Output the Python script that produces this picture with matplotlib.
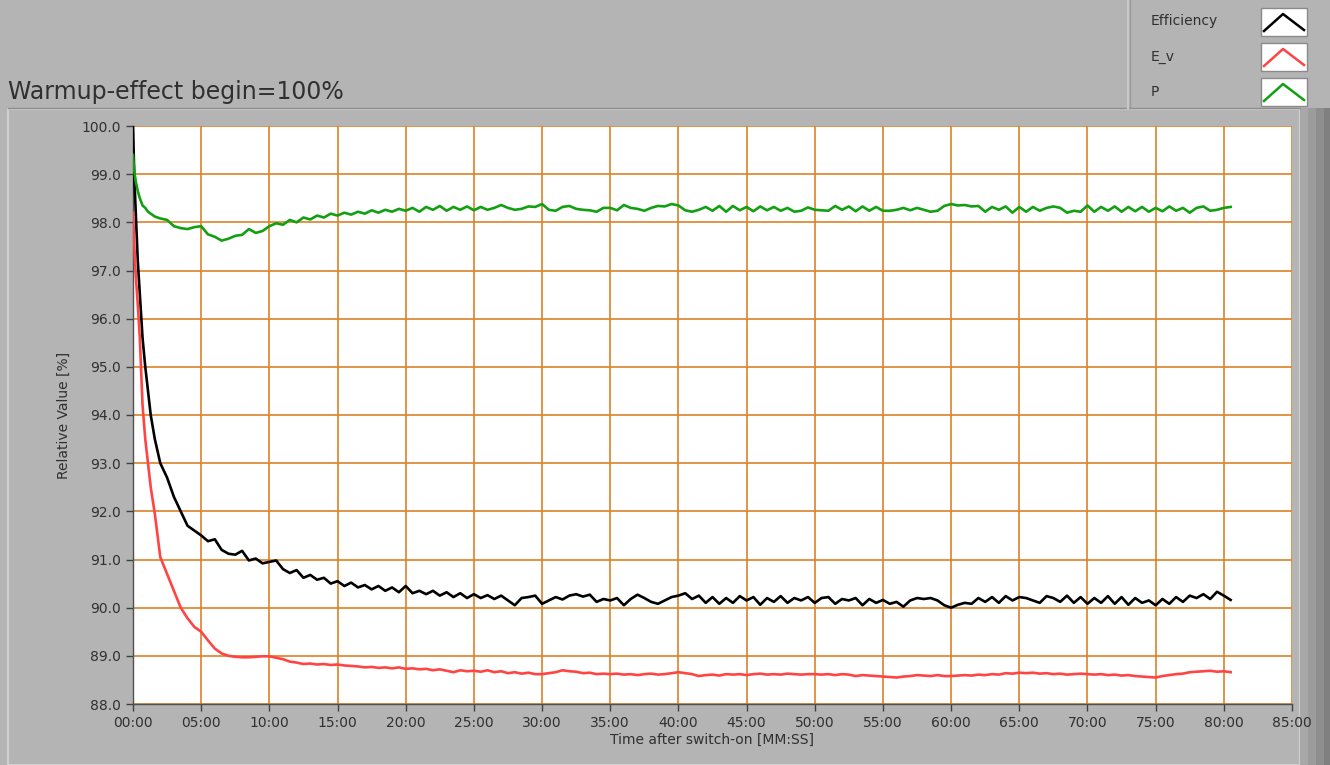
import numpy as np
import matplotlib.pyplot as plt
from matplotlib.patches import Rectangle
from matplotlib.lines import Line2D

# time after switch-on, minutes (dense at the start, then every 30 s)
minutes = np.concatenate([
    [0.0, 0.1, 0.2, 0.35, 0.5, 0.7, 0.9, 1.1, 1.3, 1.6, 2.0, 2.5, 3.0, 3.5, 4.0, 4.5, 5.0],
    np.arange(5.5, 80.51, 0.5),
])

efficiency = [
    100.0, 98.9, 98.2, 97.2, 96.5, 95.6, 95.0, 94.5, 94.0, 93.5, 93.0, 92.7, 92.3, 92.0, 91.7, 91.6, 91.5,
    91.38, 91.42, 91.20, 91.12, 91.10, 91.18, 90.98, 91.02, 90.92, 90.95,
    90.98, 90.80, 90.72, 90.78, 90.62, 90.68, 90.58, 90.62, 90.50, 90.55,
    90.45, 90.52, 90.42, 90.47, 90.38, 90.45, 90.35, 90.42, 90.32, 90.45,
    90.30, 90.35, 90.28, 90.35, 90.25, 90.32, 90.22, 90.30, 90.20, 90.28,
    90.20, 90.26, 90.18, 90.25, 90.15, 90.05, 90.20, 90.22, 90.25, 90.08,
    90.15, 90.22, 90.17, 90.25, 90.28, 90.23, 90.27, 90.12, 90.18, 90.15,
    90.20, 90.05, 90.18, 90.27, 90.20, 90.12, 90.08, 90.15, 90.22, 90.25,
    90.30, 90.18, 90.25, 90.10, 90.22, 90.08, 90.20, 90.10, 90.24, 90.15,
    90.22, 90.06, 90.20, 90.12, 90.24, 90.10, 90.20, 90.15, 90.22, 90.10,
    90.20, 90.22, 90.08, 90.18, 90.15, 90.20, 90.05, 90.18, 90.10, 90.16,
    90.08, 90.12, 90.02, 90.15, 90.20, 90.18, 90.20, 90.15, 90.05, 90.00,
    90.06, 90.10, 90.08, 90.20, 90.12, 90.22, 90.10, 90.24, 90.15, 90.22,
    90.20, 90.15, 90.10, 90.24, 90.20, 90.12, 90.25, 90.10, 90.22, 90.08,
    90.20, 90.10, 90.24, 90.08, 90.22, 90.06, 90.20, 90.10, 90.15, 90.05,
    90.18, 90.08, 90.22, 90.12, 90.25, 90.20, 90.28, 90.18, 90.33, 90.25,
    90.16,
]

e_v = [
    98.2, 97.5, 96.9, 96.3, 95.6, 94.2, 93.5, 93.0, 92.5, 91.95, 91.05, 90.7, 90.35, 90.0, 89.78, 89.6, 89.5,
    89.32, 89.15, 89.05, 89.00, 88.98, 88.97, 88.97, 88.98, 88.99, 88.99,
    88.96, 88.93, 88.88, 88.86, 88.83, 88.84, 88.82, 88.83, 88.81, 88.82,
    88.80, 88.79, 88.78, 88.76, 88.77, 88.75, 88.76, 88.74, 88.76, 88.73,
    88.74, 88.72, 88.73, 88.70, 88.72, 88.69, 88.66, 88.70, 88.68, 88.69,
    88.67, 88.70, 88.66, 88.68, 88.64, 88.66, 88.63, 88.65, 88.62, 88.62,
    88.64, 88.66, 88.70, 88.68, 88.67, 88.64, 88.65, 88.62, 88.63, 88.62,
    88.63, 88.61, 88.62, 88.60, 88.62, 88.63, 88.61, 88.62, 88.64, 88.66,
    88.64, 88.62, 88.58, 88.60, 88.61, 88.59, 88.62, 88.61, 88.62, 88.60,
    88.62, 88.63, 88.61, 88.62, 88.61, 88.63, 88.62, 88.61, 88.62, 88.62,
    88.61, 88.62, 88.60, 88.62, 88.61, 88.58, 88.60, 88.59, 88.58, 88.57,
    88.56, 88.55, 88.57, 88.58, 88.60, 88.59, 88.58, 88.60, 88.58, 88.58,
    88.59, 88.60, 88.59, 88.61, 88.60, 88.62, 88.61, 88.64, 88.63, 88.65,
    88.64, 88.65, 88.63, 88.64, 88.62, 88.63, 88.61, 88.62, 88.63, 88.62,
    88.61, 88.62, 88.60, 88.61, 88.59, 88.60, 88.58, 88.57, 88.56, 88.55,
    88.58, 88.60, 88.62, 88.63, 88.66, 88.67, 88.68, 88.69, 88.67, 88.68,
    88.66,
]

power = [
    99.4, 99.05, 98.85, 98.65, 98.5, 98.35, 98.3, 98.22, 98.18, 98.12, 98.08, 98.05, 97.92, 97.88, 97.86, 97.9, 97.92,
    97.75, 97.70, 97.62, 97.66, 97.72, 97.74, 97.86, 97.78, 97.82, 97.92,
    97.98, 97.95, 98.05, 98.00, 98.10, 98.06, 98.14, 98.10, 98.18, 98.14,
    98.20, 98.16, 98.22, 98.18, 98.25, 98.20, 98.26, 98.22, 98.28, 98.24,
    98.30, 98.22, 98.32, 98.26, 98.34, 98.24, 98.32, 98.26, 98.33, 98.25,
    98.32, 98.26, 98.30, 98.36, 98.30, 98.26, 98.28, 98.33, 98.32, 98.38,
    98.26, 98.24, 98.32, 98.34, 98.28, 98.26, 98.25, 98.22, 98.30, 98.30,
    98.25, 98.36, 98.30, 98.28, 98.24, 98.30, 98.34, 98.33, 98.38, 98.35,
    98.25, 98.22, 98.26, 98.32, 98.24, 98.34, 98.22, 98.34, 98.25, 98.32,
    98.23, 98.33, 98.25, 98.32, 98.24, 98.30, 98.22, 98.24, 98.31, 98.26,
    98.25, 98.24, 98.34, 98.26, 98.33, 98.23, 98.33, 98.24, 98.32, 98.24,
    98.24, 98.26, 98.30, 98.25, 98.30, 98.26, 98.22, 98.24, 98.34, 98.38,
    98.35, 98.36, 98.33, 98.34, 98.22, 98.32, 98.26, 98.33, 98.20, 98.32,
    98.22, 98.32, 98.24, 98.30, 98.33, 98.30, 98.20, 98.24, 98.22, 98.35,
    98.22, 98.32, 98.24, 98.33, 98.22, 98.32, 98.23, 98.32, 98.22, 98.30,
    98.23, 98.33, 98.24, 98.30, 98.20, 98.30, 98.33, 98.24, 98.26, 98.30,
    98.32,
]

series_names = ['Efficiency', 'E_v', 'P']
series_colors = ['#000000', '#ff4444', '#12a012']
x_ticks = np.arange(0, 86, 5)
y_ticks = np.arange(88, 100.1, 1)

W, H = 1330, 765
bg = '#b4b4b4'
grid_c = '#dc8228'
txt_c = '#303030'

fig = plt.figure(figsize=(W / 100, H / 100), dpi=100, facecolor=bg)

# panel decorations (figure pixel coords -> fraction)
def fr(x, y):
    return x / W, 1 - y / H

# frame around the graph area
fig.patches.append(Rectangle(fr(8, 765), (1300 - 8) / W, (765 - 109) / H,
                             transform=fig.transFigure, facecolor=bg,
                             edgecolor='#d0d0d0', lw=1.5, zorder=-5))
fig.add_artist(Line2D([8 / W, 1300 / W], [1 - 108 / H] * 2, color='#8c8c8c', lw=1, zorder=-4))
# right bevel strip
for i, c in enumerate(['#a8a8a8', '#9c9c9c', '#8e8e8e', '#808080']):
    fig.patches.append(Rectangle(((1300 + i * 8) / W, 0), 8 / W, 1 - 108 / H,
                                 transform=fig.transFigure, facecolor=c, lw=0, zorder=-5))

# legend panel
fig.add_artist(Line2D([1128 / W] * 2, [1, 1 - 108 / H], color='#c8c8c8', lw=1.5))
fig.add_artist(Line2D([1130 / W] * 2, [1, 1 - 108 / H], color='#9a9a9a', lw=1))
row_y = [21, 57, 92]
box_top = [8, 43, 78]
for name, col, yc, bt in zip(series_names, series_colors, row_y, box_top):
    fig.text(1151 / W, 1 - yc / H, name, fontsize=10, color=txt_c, va='center', ha='left')
    fig.patches.append(Rectangle(fr(1261, bt + 28), 46 / W, 28 / H, transform=fig.transFigure,
                                 facecolor='white', edgecolor='#8a8a8a', lw=1))
    fig.add_artist(Line2D([1264 / W, 1283 / W, 1304 / W],
                          [1 - (bt + 23) / H, 1 - (bt + 6) / H, 1 - (bt + 22) / H],
                          color=col, lw=1.8))

fig.text(8 / W, 1 - 92 / H, 'Warmup-effect begin=100%', fontsize=17, color=txt_c,
         va='center', ha='left')

ax = fig.add_axes([133 / W, 1 - 704 / H, (1292 - 133) / W, (704 - 126) / H])
ax.set_zorder(5)
ax.set_facecolor('white')

for vals, name, col in zip([efficiency, e_v, power], series_names, series_colors):
    ax.plot(minutes, vals, color=col, lw=1.9, label=name, zorder=3)

ax.set_xlim(0, 85)
ax.set_ylim(88, 100)
ax.set_xticks(x_ticks)
ax.set_xticklabels(['%02d:00' % m for m in x_ticks])
ax.set_yticks(y_ticks)
ax.set_yticklabels(['%.1f' % v for v in y_ticks])
ax.grid(True, color=grid_c, lw=1.2, zorder=1)
ax.set_axisbelow(True)
ax.tick_params(direction='out', length=5, width=1, colors='#404040',
               labelsize=10, labelcolor=txt_c)
for s in ['top', 'right']:
    ax.spines[s].set_visible(False)
for s in ['left', 'bottom']:
    ax.spines[s].set_color('#505050')
    ax.spines[s].set_linewidth(1)

ax.set_xlabel('Time after switch-on [MM:SS]', fontsize=10, color=txt_c, labelpad=2)
ax.set_ylabel('Relative Value [%]', fontsize=10, color=txt_c, labelpad=8)

fig.savefig('out.png', dpi=100, facecolor=bg)
